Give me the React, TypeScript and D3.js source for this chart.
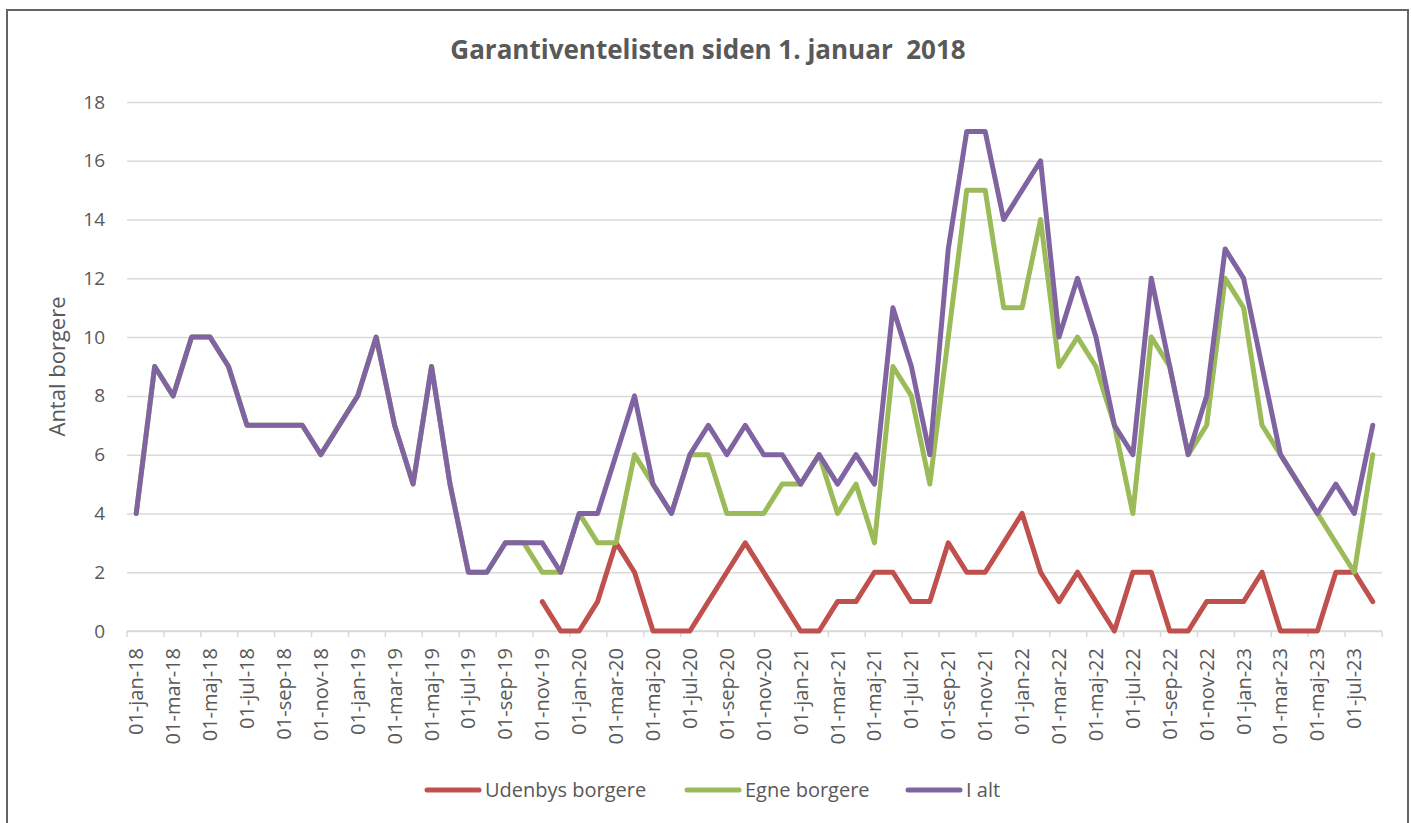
import React, { useEffect, useRef } from "react";
import * as d3 from "d3";

const width = 1411;
const height = 823;
const margin = { top: 102, right: 29, bottom: 192, left: 127 };

const monthNames = ["jan", "feb", "mar", "apr", "maj", "jun", "jul", "aug", "sep", "okt", "nov", "dec"];
const years = ["18", "19", "20", "21", "22", "23"];
const monthsInLastYear = 8;

// antal borgere pr. måned, jan 2018 - aug 2023
const udenbys = [
    null, null, null, null, null, null, null, null, null, null, null, null,
    null, null, null, null, null, null, null, null, null, null, 1, 0,
    0, 1, 3, 2, 0, 0, 0, 1, 2, 3, 2, 1,
    0, 0, 1, 1, 2, 2, 1, 1, 3, 2, 2, 3,
    4, 2, 1, 2, 1, 0, 2, 2, 0, 0, 1, 1,
    1, 2, 0, 0, 0, 2, 2, 1,
];
const egne = [
    4, 9, 8, 10, 10, 9, 7, 7, 7, 7, 6, 7,
    8, 10, 7, 5, 9, 5, 2, 2, 3, 3, 2, 2,
    4, 3, 3, 6, 5, 4, 6, 6, 4, 4, 4, 5,
    5, 6, 4, 5, 3, 9, 8, 5, 10, 15, 15, 11,
    11, 14, 9, 10, 9, 7, 4, 10, 9, 6, 7, 12,
    11, 7, 6, 5, 4, 3, 2, 6,
];
const iAlt = [
    4, 9, 8, 10, 10, 9, 7, 7, 7, 7, 6, 7,
    8, 10, 7, 5, 9, 5, 2, 2, 3, 3, 3, 2,
    4, 4, 6, 8, 5, 4, 6, 7, 6, 7, 6, 6,
    5, 6, 5, 6, 5, 11, 9, 6, 13, 17, 17, 14,
    15, 16, 10, 12, 10, 7, 6, 12, 9, 6, 8, 13,
    12, 9, 6, 5, 4, 5, 4, 7,
];

const seriesNames = ["Udenbys borgere", "Egne borgere", "I alt"];
const seriesColors = ["#C0504D", "#9BBB59", "#8064A2"];
const yTicks = [0, 2, 4, 6, 8, 10, 12, 14, 16, 18];

const font = "'Open Sans', Lato, sans-serif";
const textColor = "#595959";

function App() {
    const ref = useRef(null);

    useEffect(() => {
        const svg = d3.select(ref.current);
        svg.selectAll("*").remove();

        const months = [];
        years.forEach((yr, yi) => {
            const n = yi === years.length - 1 ? monthsInLastYear : 12;
            for (let m = 0; m < n; m++) months.push(`01-${monthNames[m]}-${yr}`);
        });

        const x = d3.scaleBand()
            .domain(months)
            .range([margin.left, width - margin.right])
            .paddingInner(0);
        const y = d3.scaleLinear()
            .domain([0, 18])
            .range([height - margin.bottom, margin.top]);

        svg.append("rect")
            .attr("x", 7).attr("y", 10)
            .attr("width", 1401).attr("height", 830)
            .attr("fill", "#fff")
            .attr("stroke", "#646464")
            .attr("stroke-width", 2);

        // title
        svg.append("text")
            .attr("x", 708).attr("y", 59)
            .attr("text-anchor", "middle")
            .attr("font-family", font)
            .attr("font-weight", "bold")
            .attr("font-size", 26)
            .attr("fill", textColor)
            .style("white-space", "pre")
            .text("Garantiventelisten siden 1. januar  2018");

        // gridlines + y labels
        const yAxis = svg.append("g")
            .attr("transform", `translate(${margin.left},0)`)
            .call(d3.axisLeft(y).tickValues(yTicks).tickSize(-(width - margin.left - margin.right)).tickPadding(22));
        yAxis.select(".domain").remove();
        yAxis.selectAll(".tick line").attr("stroke", "#d9d9d9").attr("stroke-width", 1.5);
        yAxis.selectAll(".tick text")
            .attr("font-family", font).attr("font-size", 19).attr("fill", textColor);

        svg.append("text")
            .attr("transform", `translate(65,${(margin.top + height - margin.bottom) / 2}) rotate(-90)`)
            .attr("text-anchor", "middle")
            .attr("font-family", font)
            .attr("font-size", 22)
            .attr("fill", textColor)
            .text("Antal borgere");

        // x axis
        const x0 = height - margin.bottom;
        const xAxis = svg.append("g").attr("transform", `translate(0,${x0})`);
        xAxis.append("line")
            .attr("x1", margin.left).attr("x2", width - margin.right)
            .attr("stroke", "#d9d9d9").attr("stroke-width", 1.5);
        const boundaries = months.filter((d, i) => i % 2 === 0).map(d => x(d));
        boundaries.push(width - margin.right);
        xAxis.selectAll(".tk")
            .data(boundaries)
            .enter().append("line")
            .attr("x1", d => d).attr("x2", d => d)
            .attr("y1", 0).attr("y2", 6)
            .attr("stroke", "#d9d9d9").attr("stroke-width", 1.5);
        xAxis.selectAll(".lbl")
            .data(months.filter((d, i) => i % 2 === 0))
            .enter().append("text")
            .attr("transform", d => `translate(${x(d) + x.bandwidth() / 2 + 7},17) rotate(-90)`)
            .attr("text-anchor", "end")
            .attr("font-family", font)
            .attr("font-size", 20)
            .attr("fill", textColor)
            .text(d => d);

        // lines
        const allSeries = [udenbys, egne, iAlt];
        const line = d3.line()
            .defined(d => d != null)
            .x((d, i) => x(months[i]) + x.bandwidth() / 2)
            .y(d => y(d));

        svg.selectAll(".series")
            .data(allSeries)
            .enter().append("path")
            .attr("fill", "none")
            .attr("stroke", (d, i) => seriesColors[i])
            .attr("stroke-width", 5)
            .attr("stroke-linejoin", "round")
            .attr("stroke-linecap", "round")
            .attr("d", line);

        // legend
        const legendX = [425, 685, 906];
        const legend = svg.selectAll(".legend")
            .data(seriesNames)
            .enter().append("g")
            .attr("transform", (d, i) => `translate(${legendX[i]},790)`);
        legend.append("line")
            .attr("x1", 2).attr("x2", 54)
            .attr("stroke", (d, i) => seriesColors[i])
            .attr("stroke-width", 5)
            .attr("stroke-linecap", "round");
        legend.append("text")
            .attr("x", 60).attr("y", 7)
            .attr("font-family", font)
            .attr("font-size", 20)
            .attr("fill", textColor)
            .text(d => d);
    }, []);

    return (
        <svg
            ref={ref}
            width={width}
            height={height}
            style={{ position: "absolute", left: 0, top: 0 }}
        />
    );
}

export default App;
